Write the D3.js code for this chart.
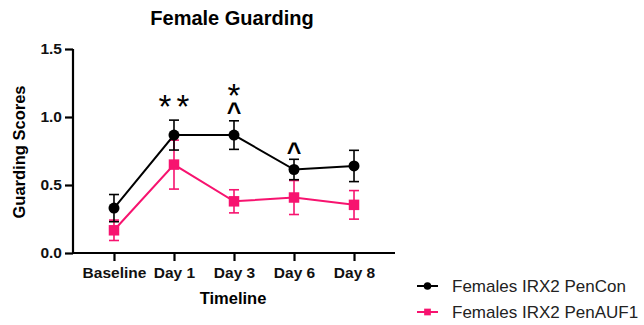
<!DOCTYPE html>
<html>
<head>
<meta charset="utf-8">
<script src="https://cdn.jsdelivr.net/npm/d3@7"></script>
<style>
  body { margin: 0; background: #fff; }
  svg { display: block; font-family: "Liberation Sans", Arial, sans-serif; }
</style>
</head>
<body>
<div id="chart"></div>
<script>
// Female guarding scores, mean +/- SEM
const timepoints = ["Baseline", "Day 1", "Day 3", "Day 6", "Day 8"]
const penConMean = [0.33, 0.867, 0.867, 0.614, 0.64]
const penConErr  = [0.10, 0.11, 0.105, 0.075, 0.115]
const penAufMean = [0.167, 0.65, 0.38, 0.408, 0.354]
const penAufErr  = [0.075, 0.18, 0.085, 0.125, 0.105]
const seriesNames = ["Females IRX2 PenCon", "Females IRX2 PenAUF1"]
const yTicks = [0.0, 0.5, 1.0, 1.5]
// significance marks: category, stacked symbols (top first), height of lowest symbol in data units
const marks = [
    ["Day 1", ["* *"], 1.13],
    ["Day 3", ["*", "^"], 1.07],
    ["Day 6", ["^"], 0.78]
]

const width = 644, height = 325
const black = "#000", pink = "#f7136f"

const svg = d3.select("#chart").append("svg")
    .attr("width", width).attr("height", height)

// scales
const x = d3.scalePoint().domain(timepoints).range([73, 395]).padding(0.683)
const y = d3.scaleLinear().domain([0, 1.5]).range([253, 49])

// title
svg.append("text")
    .attr("x", 232).attr("y", 25)
    .attr("text-anchor", "middle")
    .style("font-size", "20px").style("font-weight", "bold")
    .text("Female Guarding")

// y axis
const yAxis = svg.append("g")
    .attr("transform", "translate(73,0)")
    .call(d3.axisLeft(y).tickValues(yTicks).tickFormat(d3.format(".1f")).tickSize(8).tickPadding(3))
yAxis.select(".domain").attr("stroke-width", 2.2).attr("d", "M0," + y(1.5) + "V" + y(0))
yAxis.selectAll(".tick line").attr("stroke-width", 2.2)
yAxis.selectAll(".tick text")
    .style("font-size", "15.5px").style("font-weight", "bold")
    .style("font-family", "'Liberation Sans', Arial, sans-serif").attr("fill", "#111")

// x axis
const xAxis = svg.append("g")
    .attr("transform", "translate(0,253)")
    .call(d3.axisBottom(x).tickSize(8).tickPadding(6))
xAxis.select(".domain").attr("stroke-width", 2.2).attr("d", "M73,0H395")
xAxis.selectAll(".tick line").attr("stroke-width", 2.2)
xAxis.selectAll(".tick text")
    .style("font-size", "15.5px").style("font-weight", "bold")
    .style("font-family", "'Liberation Sans', Arial, sans-serif").attr("fill", "#111")

// axis titles
svg.append("text")
    .attr("transform", "translate(25,152) rotate(-90)")
    .attr("text-anchor", "middle")
    .style("font-size", "16.5px").style("font-weight", "bold")
    .text("Guarding Scores")

svg.append("text")
    .attr("x", 233).attr("y", 304)
    .attr("text-anchor", "middle")
    .style("font-size", "16.5px").style("font-weight", "bold")
    .text("Timeline")

function drawSeries(means, errs, colour, shape) {
    const data = timepoints.map(function (t, i) { return { t: t, m: means[i], e: errs[i] } })
    const g = svg.append("g")

    // error bars
    const eb = g.selectAll(".err").data(data).enter().append("g").attr("stroke", colour).attr("stroke-width", 1.6)
    eb.append("line")
        .attr("x1", function (d) { return x(d.t) }).attr("x2", function (d) { return x(d.t) })
        .attr("y1", function (d) { return y(d.m - d.e) }).attr("y2", function (d) { return y(d.m + d.e) })
    eb.append("line")
        .attr("x1", function (d) { return x(d.t) - 5 }).attr("x2", function (d) { return x(d.t) + 5 })
        .attr("y1", function (d) { return y(d.m + d.e) }).attr("y2", function (d) { return y(d.m + d.e) })
    eb.append("line")
        .attr("x1", function (d) { return x(d.t) - 5 }).attr("x2", function (d) { return x(d.t) + 5 })
        .attr("y1", function (d) { return y(d.m - d.e) }).attr("y2", function (d) { return y(d.m - d.e) })

    // connecting line
    g.append("path")
        .datum(data)
        .attr("fill", "none").attr("stroke", colour).attr("stroke-width", 2)
        .attr("d", d3.line().x(function (d) { return x(d.t) }).y(function (d) { return y(d.m) }))

    // markers
    g.selectAll(".pt").data(data).enter().append("path")
        .attr("transform", function (d) { return "translate(" + x(d.t) + "," + y(d.m) + ")" })
        .attr("d", d3.symbol().type(shape).size(shape === d3.symbolSquare ? 110 : 95))
        .attr("fill", colour)
}

drawSeries(penAufMean, penAufErr, pink, d3.symbolSquare)
drawSeries(penConMean, penConErr, black, d3.symbolCircle)

// significance marks (stacked symbols share one text element)
const markText = svg.selectAll(".mark").data(marks).enter().append("text")
    .attr("text-anchor", "middle")
markText.each(function (d) {
    const el = d3.select(this)
    const n = d[1].length
    d[1].forEach(function (s, i) {
        const lift = (n - 1 - i) * 19
        el.append("tspan")
            .attr("x", x(d[0]))
            .attr("y", y(d[2]) + (s === "^" ? 14 : 19) - lift)
            .style("font-size", s === "^" ? "25px" : "33px")
            .style("font-weight", s === "^" ? "bold" : "normal")
            .style("word-spacing", "-4px")
            .text(s)
    })
})

// legend
const legend = svg.append("g").attr("transform", "translate(417,0)")
const legendRows = [[seriesNames[0], black, d3.symbolCircle, 286], [seriesNames[1], pink, d3.symbolSquare, 312]]
legendRows.forEach(function (r) {
    legend.append("line").attr("x1", 0).attr("x2", 21).attr("y1", r[3]).attr("y2", r[3])
        .attr("stroke", r[1]).attr("stroke-width", 2)
    legend.append("path").attr("transform", "translate(10.5," + r[3] + ")")
        .attr("d", d3.symbol().type(r[2]).size(45)).attr("fill", r[1])
    legend.append("text").attr("x", 35).attr("y", r[3] + 6)
        .style("font-size", "17px").attr("fill", "#222")
        .text(r[0])
})
</script>
</body>
</html>
